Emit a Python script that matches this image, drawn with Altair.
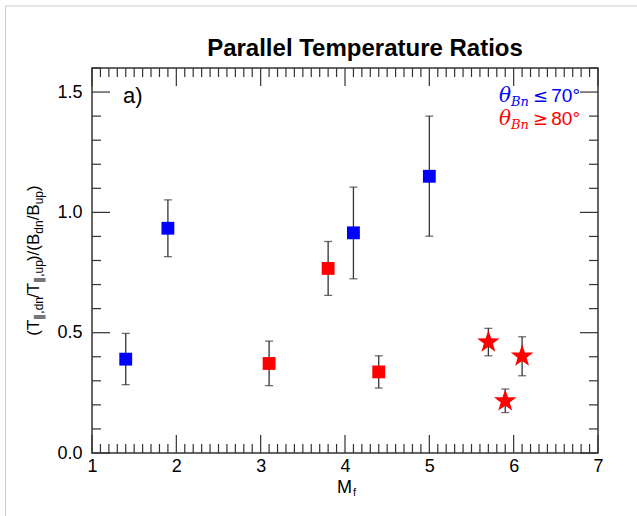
import math
import altair as alt
import pandas as pd

# ---------------- data ----------------
mf = [1.4, 1.9, 3.1, 3.8, 4.1, 4.4, 5.0, 5.7, 5.9, 6.1]
ratio = [0.390, 0.934, 0.372, 0.767, 0.915, 0.337, 1.150, 0.461, 0.216, 0.402]
err_lo = [0.284, 0.816, 0.280, 0.655, 0.724, 0.270, 0.901, 0.404, 0.168, 0.321]
err_hi = [0.497, 1.052, 0.465, 0.879, 1.105, 0.404, 1.400, 0.518, 0.266, 0.483]
group = ["le70", "le70", "ge80", "ge80", "le70", "ge80", "le70", "ge80", "ge80", "ge80"]
marker = ["square"] * 7 + ["star"] * 3

x_major = [1, 2, 3, 4, 5, 6, 7]
y_major = [0.0, 0.5, 1.0, 1.5]

df = pd.DataFrame({"mf": mf, "ratio": ratio, "lo": err_lo, "hi": err_hi,
                   "group": group, "marker": marker})

# ---------------- layout ----------------
W, H = 506, 385
PAD = {"left": 92, "top": 68, "right": 637 - 92 - W, "bottom": 516 - 68 - H}
FRAME = "#333333"
TICKW = 1.2

xs = alt.Scale(domain=[1, 7], nice=False, zero=False)
ys = alt.Scale(domain=[0, 1.6], nice=False, zero=False)

x_minor = [round(1 + 0.1 * i, 1) for i in range(61) if i % 10 != 0]
y_minor = [round(0.1 * i, 1) for i in range(17) if i % 5 != 0]

colors = alt.Scale(domain=["le70", "ge80"], range=["#0000ff", "#ff0000"])

# star path in [-1,1] box
pts = []
for k in range(10):
    a = math.radians(-90 + 36 * k)
    r = 1.0 if k % 2 == 0 else 0.40
    pts.append(f"{r * math.cos(a):.3f},{r * math.sin(a):.3f}")
star_path = "M" + "L".join(pts) + "Z"

base = alt.Chart(df)

axes = base.mark_point(opacity=0).encode(
    x=alt.X("mf:Q", scale=xs, axis=alt.Axis(values=x_major, format="d", title=None,
                                             labelPadding=4, labelFlush=False)),
    y=alt.Y("ratio:Q", scale=ys, axis=alt.Axis(values=y_major, format=".1f", title=None,
                                                labelPadding=10)),
)

bars = base.mark_rule(color=FRAME, strokeWidth=1.3).encode(
    x=alt.X("mf:Q", scale=xs), y=alt.Y("lo:Q", scale=ys), y2="hi:Q")
cap_lo = base.mark_tick(color=FRAME, orient="horizontal", size=8, thickness=1.3).encode(
    x=alt.X("mf:Q", scale=xs), y=alt.Y("lo:Q", scale=ys))
cap_hi = base.mark_tick(color=FRAME, orient="horizontal", size=8, thickness=1.3).encode(
    x=alt.X("mf:Q", scale=xs), y=alt.Y("hi:Q", scale=ys))

squares = base.transform_filter(alt.datum.marker == "square").mark_point(
    shape="square", filled=True, size=165, opacity=1).encode(
    x=alt.X("mf:Q", scale=xs), y=alt.Y("ratio:Q", scale=ys),
    color=alt.Color("group:N", scale=colors, legend=None))
stars = base.transform_filter(alt.datum.marker == "star").mark_point(
    shape=star_path, filled=True, size=560, opacity=1).encode(
    x=alt.X("mf:Q", scale=xs), y=alt.Y("ratio:Q", scale=ys),
    color=alt.Color("group:N", scale=colors, legend=None))

# inward ticks
def xticks(vals, length):
    d = alt.Chart(pd.DataFrame({"v": vals}))
    bot = d.mark_rule(color=FRAME, strokeWidth=TICKW).encode(
        x=alt.X("v:Q", scale=xs), y=alt.value(H), y2=alt.value(H - length))
    top = d.mark_rule(color=FRAME, strokeWidth=TICKW).encode(
        x=alt.X("v:Q", scale=xs), y=alt.value(0), y2=alt.value(length))
    return [bot, top]

def yticks(vals, length):
    d = alt.Chart(pd.DataFrame({"v": vals}))
    left = d.mark_rule(color=FRAME, strokeWidth=TICKW).encode(
        y=alt.Y("v:Q", scale=ys), x=alt.value(0), x2=alt.value(length))
    right = d.mark_rule(color=FRAME, strokeWidth=TICKW).encode(
        y=alt.Y("v:Q", scale=ys), x=alt.value(W), x2=alt.value(W - length))
    return [left, right]

tick_layers = xticks(x_minor, 9) + xticks(x_major, 18) + yticks(y_minor, 9) + yticks(y_major, 18)

def text(s, x, y, size, color="black", weight="normal", style="normal",
         font="Liberation Sans", align="left", angle=0):
    kw = dict(text=s, fontSize=size, color=color, fontWeight=weight, fontStyle=style,
              font=font, align=align, baseline="alphabetic")
    if angle:
        kw["angle"] = angle
    return alt.Chart(pd.DataFrame({"a": [0]})).mark_text(**kw).encode(
        x=alt.value(x), y=alt.value(y))

ann = []
ann.append(text("Parallel Temperature Ratios", 273, -12, 24, weight="bold", align="center"))
ann.append(text("a)", 31, 35, 22))
# legend text
for (col, sym, val, yb) in [("#0000ff", "≤", "70°", 34), ("#ff0000", "≥", "80°", 57)]:
    ann.append(text("θ", 407, yb, 20, color=col, style="italic", font="DejaVu Serif"))
    ann.append(text("Bn", 419, yb + 4, 13, color=col, style="italic", font="DejaVu Serif"))
    ann.append(text(sym, 441, yb, 18, color=col, font="DejaVu Sans"))
    ann.append(text(val, 488, yb, 19, color=col, font="Liberation Sans", align="right"))
# x title
ann.append(text("M", 245, 425, 18))
ann.append(text("f", 261, 428, 11))

# y title pieces (rotated)
widths = {"(": .333, ")": .333, "T": .611, "/": .278, "B": .667, ",": .278,
          "d": .556, "n": .556, "u": .556, "p": .556, "∥": .42}
pieces = [("(T", 17, False), ("∥,dn", 12, True), ("/T", 17, False), ("∥,up", 12, True),
          (")/(B", 17, False), ("dn", 12, True), ("/B", 17, False), ("up", 12, True),
          (")", 17, False)]
lens = [sum(widths[c] for c in s) * fs for s, fs, _ in pieces]
total = sum(lens)
cur = H / 2 + total / 2
for (s, fs, sub), ln in zip(pieces, lens):
    ann.append(text(s, -49 if sub else -53, cur, fs, angle=270))
    cur -= ln

# outer light frame
frame_d = alt.Chart(pd.DataFrame({"a": [0]}))
outer = [
    frame_d.mark_rule(color="#cccccc", strokeWidth=1).encode(
        x=alt.value(-86.5), x2=alt.value(637 - 92 + 5), y=alt.value(-62)),
    frame_d.mark_rule(color="#cccccc", strokeWidth=1).encode(
        x=alt.value(-86.5), y=alt.value(-62), y2=alt.value(516 - 68 + 5)),
]

chart = alt.layer(axes, bars, cap_lo, cap_hi, squares, stars, *tick_layers, *ann, *outer).properties(
    width=W, height=H, padding=PAD,
    autosize=alt.AutoSizeParams(type="none"),
    background="white",
).configure_view(stroke=FRAME, strokeWidth=1.5).configure_axis(
    domain=False, ticks=False, grid=False, labelFont="Liberation Sans",
    labelFontSize=18, labelColor="black")

chart.save("out.html", embed_options={"renderer": "svg", "actions": False})
